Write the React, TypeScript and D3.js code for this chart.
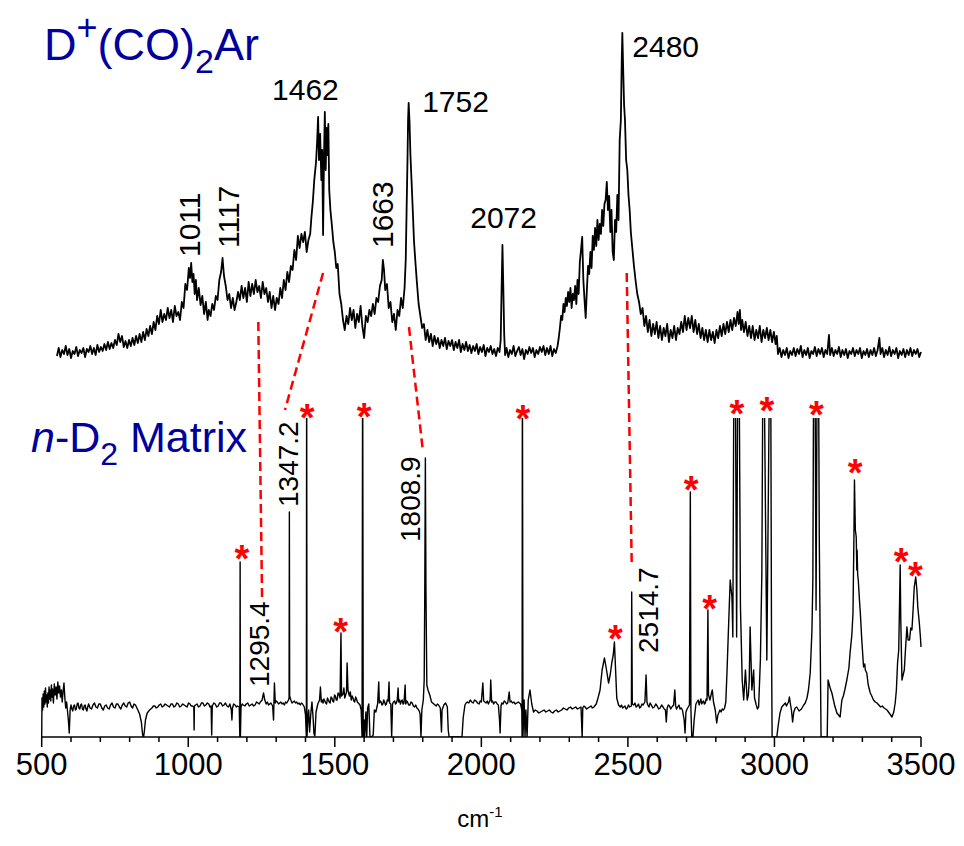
import React from 'react';
import * as d3 from 'd3';

const WIDTH = 964;
const HEIGHT = 846;

// D+(CO)2Ar spectrum: [wavenumber cm-1, intensity a.u.]
const TOP_SPECTRUM: [number, number][] = [
  [552,4],[558,12],[564,3],[570,10],[576,6],[582,14],[588,5],[594,11],[600,2],[606,9],[612,6],[618,13],[624,4],[630,10],[636,7],[642,12],[648,3],[654,11],[660,8],[666,14],[672,6],[678,12],[684,5],[690,15],[696,8],[702,13],
  [708,9],[714,16],[720,10],[726,18],[732,11],[738,17],[744,12],[750,20],[756,15],[762,26],[768,18],[774,24],[780,13],[786,19],[792,12],[798,20],[804,14],
  [810,22],[816,15],[822,24],[828,17],[834,26],[840,18],[846,28],[852,20],[858,31],[864,24],[870,34],[876,26],[882,38],[888,30],[894,44],[900,36],[906,50],[912,38],[918,46],[924,40],[930,52],[936,42],[942,50],[948,38],[954,54],[960,44],[966,48],[972,40],[978,58],[984,52],[990,76],[996,70],[1002,92],[1006,82],[1010,97],[1014,78],[1018,86],[1022,66],[1026,80],[1030,60],[1036,72],[1042,55],[1048,64],[1054,46],[1060,58],[1066,40],[1070,50],[1076,44],[1082,56],[1088,50],[1094,64],[1100,60],[1106,80],[1112,88],[1117,102],[1122,84],[1128,74],[1134,60],[1140,66],[1146,52],[1152,62],[1158,50],[1164,58],[1170,68],[1176,60],[1182,74],[1188,62],[1194,72],[1200,58],[1206,78],[1212,64],[1218,76],[1224,66],[1230,80],[1236,68],[1242,74],[1248,62],[1254,78],[1260,66],[1266,72],[1272,58],[1278,68],[1284,52],[1290,64],[1296,50],[1302,62],[1308,56],[1314,72],[1320,62],[1326,80],[1332,70],[1338,88],[1344,78],[1350,94],[1356,90],[1362,110],[1368,100],[1374,124],[1380,112],[1386,126],[1392,118],[1398,128],[1404,108],[1410,120],[1416,126],[1420,142],[1425,158],[1430,180],[1436,198],[1440,220],[1443,243],[1446,200],[1450,226],[1454,180],[1457,210],[1460,125],[1463,200],[1466,248],[1469,190],[1472,232],[1475,205],[1478,236],[1481,170],[1485,150],[1490,135],[1495,118],[1500,108],[1505,92],[1510,96],[1516,66],[1522,56],[1528,40],[1534,30],[1540,44],[1546,36],[1552,52],[1558,40],[1564,50],[1570,32],[1576,46],[1582,38],[1588,54],[1594,34],[1600,22],[1606,44],[1612,38],[1618,50],[1624,44],[1630,56],[1636,46],[1642,62],[1648,58],[1654,74],[1660,80],[1664,100],[1668,90],[1672,70],[1678,76],[1684,52],[1690,58],[1696,38],[1702,46],[1708,30],[1714,50],[1720,44],[1726,62],[1732,52],[1738,72],[1742,100],[1745,150],[1748,200],[1750,240],[1752,257],[1755,238],[1758,205],[1762,178],[1766,150],[1770,120],[1775,98],[1780,78],[1786,56],[1792,44],[1798,32],[1804,36],[1810,20],[1816,30],[1822,18],[1828,26],[1834,14],[1840,24],[1846,16],[1852,22],[1858,12],[1864,20],[1870,14],[1876,22],[1882,11],[1888,19],[1894,14],[1900,20],[1906,10],[1912,18],[1918,12],[1924,20],[1930,8],[1936,16],[1942,10],[1948,18],[1954,9],[1960,15],[1966,7],[1972,14],[1978,9],[1984,16],[1990,6],[1996,13],[2002,8],[2008,15],[2014,4],[2020,12],[2026,8],[2032,14],[2038,6],[2044,11],[2050,4],[2056,12],[2062,8],[2066,20],[2069,70],[2072,115],[2075,72],[2078,25],[2081,5],[2086,12],[2092,3],[2098,10],[2104,6],[2110,14],[2116,4],[2122,9],[2128,13],[2134,5],[2140,11],[2146,1],[2152,10],[2158,6],[2164,13],[2170,7],[2176,12],[2182,3],[2188,10],[2194,6],[2200,13],[2206,8],[2212,14],[2218,5],[2224,12],[2230,6],[2236,14],[2242,4],[2248,11],[2254,7],[2260,14],[2264,22],[2268,32],[2272,44],[2276,40],[2280,56],[2284,48],[2288,62],[2292,54],[2296,68],[2300,58],[2304,72],[2308,52],[2312,66],[2316,60],[2320,74],[2324,56],[2328,80],[2332,66],[2336,98],[2340,110],[2344,123],[2348,80],[2352,60],[2356,42],[2360,70],[2364,94],[2368,86],[2372,108],[2376,92],[2380,124],[2384,110],[2388,132],[2392,114],[2396,140],[2400,120],[2404,136],[2408,126],[2412,150],[2416,134],[2420,156],[2424,160],[2428,178],[2432,150],[2436,164],[2440,128],[2444,150],[2448,108],[2452,100],[2456,140],[2460,128],[2464,165],[2468,140],[2472,220],[2476,240],[2479,300],[2481,327],[2484,290],[2487,255],[2490,240],[2494,200],[2498,190],[2502,165],[2506,150],[2510,128],[2515,112],[2520,96],[2526,80],[2532,66],[2538,58],[2544,46],[2550,52],[2556,34],[2562,44],[2568,28],[2574,40],[2580,24],[2586,36],[2592,26],[2598,38],[2604,22],[2610,34],[2616,20],[2622,32],[2628,24],[2634,36],[2640,18],[2646,30],[2652,22],[2658,34],[2664,20],[2670,32],[2676,26],[2682,38],[2688,28],[2694,44],[2700,30],[2706,42],[2712,32],[2718,44],[2724,28],[2730,40],[2736,26],[2742,36],[2748,22],[2754,32],[2760,20],[2766,30],[2772,18],[2778,30],[2784,20],[2790,28],[2796,17],[2802,30],[2808,22],[2814,34],[2820,24],[2826,36],[2832,26],[2838,38],[2844,28],[2850,40],[2856,30],[2862,42],[2868,34],[2874,48],[2878,36],[2882,50],[2886,30],[2890,40],[2896,28],[2902,38],[2908,24],[2914,34],[2920,22],[2926,34],[2932,20],[2938,30],[2944,22],[2950,34],[2956,18],[2962,30],[2968,22],[2974,32],[2980,20],[2986,30],[2992,18],[2998,28],[3004,16],[3008,24],[3012,6],[3018,12],[3024,3],[3030,10],[3036,5],[3042,12],[3048,2],[3054,9],[3060,5],[3066,12],[3072,4],[3078,11],[3084,6],[3090,14],[3096,3],[3102,10],[3108,5],[3114,12],[3120,2],[3126,9],[3132,6],[3138,13],[3144,4],[3150,11],[3156,6],[3162,12],[3168,3],[3174,10],[3180,6],[3186,25],[3190,5],[3196,12],[3202,4],[3208,10],[3214,6],[3220,13],[3226,3],[3232,10],[3238,5],[3244,11],[3250,2],[3256,9],[3262,6],[3268,12],[3274,4],[3280,10],[3286,6],[3292,12],[3298,2],[3304,9],[3310,5],[3316,11],[3322,3],[3328,10],[3334,5],[3340,12],[3346,4],[3352,10],[3358,22],[3362,6],[3368,12],[3374,3],[3380,10],[3386,5],[3392,13],[3398,4],[3404,10],[3410,6],[3416,12],[3422,2],[3428,9],[3434,5],[3440,11],[3446,3],[3452,10],[3458,5],[3464,12],[3470,4],[3476,10],[3482,6],[3488,11],[3494,3],[3500,8],
];

// n-D2 matrix spectrum: [wavenumber cm-1, intensity a.u.]
const BOTTOM_SPECTRUM: [number, number][] = [
  [500,3],[501,42],[503,30],[505,46],[507,33],[509,49],[511,36],[513,52],[515,38],[517,45],[519,33],[521,47],[523,37],[525,53],[527,41],[529,50],[531,39],[533,55],[535,43],[537,51],[540,37],[543,56],[546,45],[549,53],[552,41],[555,58],[558,47],[561,54],[564,43],[567,50],[570,38],[573,49],[576,57],[579,42],[582,32],[585,38],[588,29],[591,20],[594,7],[597,30],[600,35],[603,31],[606,29],[609,34],[612,35],[615,30],[618,31],[621,36],[624,37],[627,32],[630,31],[633,35],[636,36],[639,31],[642,30],[645,34],[648,35],[651,31],[654,29],[657,33],[660,36],[665,32],[670,31],[675,35],[680,37],[685,33],[690,32],[695,36],[700,36],[705,32],[710,30],[715,34],[720,35],[725,32],[730,31],[735,35],[740,37],[745,33],[750,32],[755,36],[760,36],[765,33],[770,31],[775,35],[780,37],[785,34],[790,33],[795,37],[800,38],[805,34],[810,32],[815,36],[820,35],[828,30],[834,26],[840,18],[844,6],[847,2],[850,8],[854,20],[860,27],[868,30],[876,32],[881,34],[886,34],[891,32],[896,33],[901,35],[906,36],[911,33],[916,34],[921,36],[926,35],[931,34],[936,33],[941,36],[946,36],[951,33],[956,34],[961,37],[966,36],[971,33],[976,34],[981,36],[986,35],[991,34],[996,33],[1001,37],[1006,36],[1010,34],[1014,34],[1019,33],[1020,10],[1021,34],[1025,35],[1030,36],[1035,33],[1040,34],[1045,37],[1050,37],[1055,34],[1060,35],[1065,37],[1070,36],[1074,33],[1078,34],[1080,5],[1082,34],[1087,37],[1092,36],[1097,33],[1102,34],[1107,37],[1112,37],[1117,34],[1122,35],[1127,37],[1132,34],[1137,33],[1142,36],[1147,30],[1149,20],[1151,32],[1155,36],[1160,35],[1164,33],[1168,34],[1174,33],[1176,3],[1177,178],[1178,3],[1180,33],[1184,36],[1188,35],[1193,34],[1198,36],[1203,37],[1208,34],[1213,35],[1218,36],[1223,34],[1228,35],[1233,38],[1238,37],[1242,36],[1246,38],[1252,40],[1257,47],[1261,40],[1266,36],[1270,38],[1274,35],[1278,36],[1282,37],[1288,34],[1291,20],[1294,57],[1297,37],[1300,39],[1304,38],[1308,36],[1312,37],[1316,38],[1320,36],[1324,37],[1328,35],[1332,38],[1336,37],[1342,40],[1344,42],[1345,228],[1346,44],[1350,40],[1354,37],[1358,38],[1362,39],[1366,37],[1370,38],[1374,36],[1378,37],[1382,35],[1386,37],[1390,36],[1396,33],[1400,25],[1402,10],[1403,3],[1404,400],[1405,3],[1408,20],[1411,30],[1414,8],[1418,26],[1422,38],[1426,22],[1429,6],[1432,4],[1436,28],[1442,36],[1448,40],[1451,53],[1454,38],[1457,40],[1460,37],[1463,41],[1466,39],[1469,37],[1472,36],[1475,42],[1478,40],[1481,38],[1484,37],[1487,43],[1490,42],[1493,39],[1496,38],[1499,45],[1502,44],[1505,40],[1508,40],[1511,47],[1514,46],[1518,42],[1521,107],[1523,44],[1528,46],[1531,52],[1534,42],[1537,45],[1540,48],[1542,77],[1545,50],[1548,46],[1550,44],[1553,48],[1556,40],[1559,44],[1562,42],[1565,39],[1568,38],[1571,43],[1574,41],[1577,38],[1580,37],[1586,35],[1590,30],[1593,3],[1595,400],[1597,3],[1600,20],[1602,3],[1606,28],[1609,3],[1612,32],[1616,36],[1620,3],[1626,3],[1631,5],[1635,30],[1640,28],[1646,36],[1650,58],[1652,37],[1655,39],[1658,38],[1661,35],[1664,36],[1667,40],[1670,38],[1673,35],[1676,36],[1679,40],[1682,39],[1685,58],[1687,37],[1691,36],[1694,3],[1697,36],[1700,38],[1704,39],[1707,36],[1710,37],[1713,40],[1716,52],[1718,38],[1721,40],[1724,36],[1727,39],[1730,40],[1733,36],[1736,37],[1740,55],[1742,36],[1745,39],[1748,38],[1752,35],[1756,35],[1760,38],[1764,37],[1768,34],[1772,33],[1776,35],[1780,32],[1784,31],[1788,29],[1791,26],[1794,3],[1797,30],[1802,40],[1805,60],[1807,150],[1809,282],[1811,150],[1814,55],[1818,50],[1824,45],[1830,38],[1834,37],[1838,36],[1842,35],[1846,34],[1850,36],[1854,35],[1860,32],[1864,8],[1866,30],[1872,35],[1878,37],[1884,33],[1887,10],[1890,3],[1934,3],[1938,22],[1944,35],[1948,37],[1952,38],[1957,37],[1962,40],[1967,38],[1972,37],[1977,40],[1982,39],[1987,37],[1992,36],[1996,39],[2000,38],[2005,57],[2008,39],[2012,38],[2016,37],[2020,39],[2024,36],[2030,40],[2032,60],[2035,38],[2038,39],[2042,36],[2046,38],[2050,38],[2054,36],[2058,35],[2062,20],[2064,7],[2067,34],[2070,37],[2074,36],[2078,39],[2082,38],[2086,36],[2090,37],[2095,48],[2098,38],[2102,39],[2106,37],[2111,38],[2116,36],[2121,37],[2126,38],[2130,37],[2134,36],[2138,30],[2139,3],[2140,400],[2142,3],[2146,40],[2149,3],[2152,30],[2156,3],[2160,40],[2166,50],[2172,36],[2178,28],[2184,30],[2190,29],[2196,27],[2202,28],[2208,29],[2214,30],[2220,28],[2226,29],[2232,30],[2238,28],[2244,27],[2250,29],[2256,30],[2262,28],[2268,29],[2274,30],[2280,32],[2286,31],[2292,30],[2298,32],[2304,33],[2310,31],[2316,32],[2322,33],[2328,31],[2334,32],[2340,33],[2343,10],[2344,3],[2346,32],[2350,34],[2354,33],[2359,31],[2364,32],[2369,33],[2374,34],[2379,32],[2384,33],[2392,36],[2398,42],[2405,50],[2412,70],[2420,82],[2426,72],[2434,57],[2440,66],[2445,77],[2450,85],[2454,98],[2458,70],[2462,42],[2468,35],[2474,33],[2478,35],[2482,32],[2486,33],[2490,34],[2494,31],[2498,32],[2502,35],[2506,33],[2512,34],[2513,148],[2515,36],[2520,35],[2524,37],[2528,33],[2532,34],[2536,36],[2540,32],[2544,33],[2548,36],[2552,35],[2558,38],[2562,65],[2565,38],[2568,35],[2572,33],[2576,37],[2580,35],[2585,32],[2590,33],[2595,36],[2600,34],[2605,31],[2610,32],[2615,35],[2620,33],[2624,31],[2628,30],[2631,18],[2634,32],[2638,35],[2642,34],[2646,31],[2650,33],[2656,35],[2660,50],[2663,34],[2666,31],[2670,33],[2674,35],[2678,31],[2682,32],[2686,30],[2692,20],[2695,7],[2698,28],[2702,31],[2706,33],[2710,35],[2713,248],[2715,30],[2718,3],[2722,3],[2726,20],[2732,36],[2736,38],[2740,40],[2743,35],[2746,38],[2749,41],[2752,36],[2755,38],[2758,39],[2761,36],[2764,37],[2767,41],[2770,40],[2773,130],[2775,45],[2780,40],[2786,48],[2788,50],[2792,38],[2798,30],[2803,17],[2807,25],[2814,30],[2818,28],[2822,31],[2826,30],[2830,32],[2834,38],[2838,67],[2843,110],[2849,160],[2855,143],[2858,103],[2862,400],[2866,400],[2871,103],[2875,400],[2879,400],[2884,133],[2890,60],[2895,40],[2901,70],[2907,40],[2911,45],[2914,60],[2917,113],[2920,80],[2923,50],[2929,70],[2932,42],[2938,35],[2942,31],[2946,33],[2952,80],[2957,167],[2961,400],[2964,400],[2974,80],[2984,400],[2987,400],[2990,100],[2992,3],[3008,3],[3013,15],[3019,27],[3025,33],[3031,35],[3037,37],[3041,34],[3044,36],[3048,38],[3051,43],[3055,35],[3058,30],[3062,18],[3066,28],[3071,32],[3076,33],[3080,31],[3084,29],[3088,30],[3092,31],[3096,33],[3100,35],[3105,37],[3111,42],[3116,50],[3122,67],[3128,110],[3131,160],[3134,400],[3138,400],[3142,130],[3146,400],[3150,400],[3153,200],[3156,100],[3159,3],[3180,3],[3183,60],[3190,52],[3196,47],[3205,35],[3213,27],[3224,23],[3230,40],[3235,44],[3240,50],[3247,60],[3254,72],[3258,87],[3264,105],[3268,127],[3271,200],[3273,260],[3276,210],[3279,203],[3281,170],[3282,190],[3284,165],[3286,160],[3290,140],[3293,127],[3298,100],[3304,73],[3308,76],[3310,70],[3315,67],[3320,55],[3327,47],[3332,44],[3338,40],[3344,38],[3350,37],[3356,35],[3362,33],[3368,34],[3374,32],[3379,31],[3384,30],[3389,28],[3394,26],[3401,23],[3407,28],[3412,37],[3416,50],[3420,77],[3424,90],[3427,140],[3429,175],[3431,120],[3435,60],[3439,65],[3443,70],[3448,95],[3452,113],[3456,100],[3461,100],[3465,112],[3469,110],[3473,130],[3477,153],[3482,163],[3486,150],[3489,133],[3494,118],[3498,103],[3500,93],
];

const TICK_VALUES = [500, 1000, 1500, 2000, 2500, 3000, 3500];

// peak labels of the upper trace (anchor wn, anchor intensity)
const TOP_LABELS = [
  { text: '1462', wn: 1286, val: 260, vertical: false },
  { text: '1752', wn: 1798, val: 248, vertical: false },
  { text: '2072', wn: 1962, val: 132, vertical: false },
  { text: '2480', wn: 2515, val: 303, vertical: false },
  { text: '1011', wn: 1040, val: 103, vertical: true },
  { text: '1117', wn: 1173, val: 112, vertical: true },
  { text: '1663', wn: 1699, val: 112, vertical: true },
];

// peak labels of the lower trace
const BOTTOM_LABELS = [
  { text: '1295.4', wn: 1276, val: 53 },
  { text: '1347.2', wn: 1375, val: 233 },
  { text: '1808.9', wn: 1791, val: 198 },
  { text: '2514.7', wn: 2603, val: 87 },
];

// asterisks marking matrix/precursor bands: [wn, intensity]
const STAR_MARKS: [number, number][] = [
  [1183, 190], [1406, 331], [1520, 117], [1600, 332], [2142, 330], [2457, 110],
  [2716, 259], [2779, 140], [2872, 335], [2974, 338], [3143, 334], [3275, 276],
  [3432, 187], [3481, 173],
];

// dashed correlation links: top (wn, val) -> bottom (wn, val)
const LINKS = [
  { topWn: 1239, topVal: 38, botWn: 1252, botVal: 140 },
  { topWn: 1460, topVal: 87, botWn: 1330, botVal: 330 },
  { topWn: 1753, topVal: 33, botWn: 1801, botVal: 288 },
  { topWn: 2496, topVal: 87, botWn: 2513, botVal: 177 },
];

const FONT = '"Liberation Sans", Arial, Helvetica, sans-serif';
const TITLE_COLOR = '#00009c';

export default function App() {
  const x = d3.scaleLinear().domain([500, 3500]).range([41.7, 921]);
  const yTop = d3.scaleLinear().domain([0, 330]).range([360, 30]);
  const yBot = d3.scaleLinear().domain([0, 340]).range([740, 400]);
  const axisY = 737;

  const lineTop = d3.line<[number, number]>().x(d => x(d[0])).y(d => yTop(d[1]));
  const lineBot = d3.line<[number, number]>().x(d => x(d[0])).y(d => yBot(d[1]));

  const minorTicks = d3.range(500, 3501, 100);
  const starSize = 38;

  return (
    <svg width={WIDTH} height={HEIGHT} style={{ position: 'absolute', left: 0, top: 0, background: '#fff' }}
      fontFamily={FONT}>
      <defs>
        <clipPath id="botClip">
          <rect x={0} y={yBot(322)} width={WIDTH} height={axisY - yBot(322)} />
        </clipPath>
      </defs>
      <rect x={0} y={0} width={WIDTH} height={HEIGHT} fill="#fff" />

      {/* dashed links */}
      {LINKS.map((l, i) => (
        <line key={'l' + i} x1={x(l.topWn)} y1={yTop(l.topVal)} x2={x(l.botWn)} y2={yBot(l.botVal)}
          stroke="#ff0000" strokeWidth={2.5} strokeDasharray="9,5" />
      ))}

      {/* spectra */}
      <path d={lineTop(TOP_SPECTRUM) || ''} fill="none" stroke="#000" strokeWidth={1.8} strokeLinejoin="round" />
      <g clipPath="url(#botClip)">
        <path d={lineBot(BOTTOM_SPECTRUM) || ''} fill="none" stroke="#000" strokeWidth={1.4} strokeLinejoin="round" />
      </g>

      {/* axis */}
      <line x1={x(500)} x2={x(3500)} y1={axisY} y2={axisY} stroke="#000" strokeWidth={1.5} />
      {minorTicks.map(t => (
        <line key={'m' + t} x1={x(t)} x2={x(t)} y1={axisY} y2={axisY + (TICK_VALUES.includes(t) ? 10 : 5)}
          stroke="#000" strokeWidth={1.5} />
      ))}
      {TICK_VALUES.map(t => (
        <text key={'t' + t} x={x(t)} y={775} textAnchor="middle" fontSize={31} fill="#000">{t}</text>
      ))}
      <text x={480} y={827} textAnchor="middle" fontSize={24} fill="#000">cm<tspan fontSize={15} dy={-10}>-1</tspan></text>

      {/* titles */}
      <text x={44} y={60} fontSize={45} fill={TITLE_COLOR}>
        D<tspan fontSize={36} dy={-20}>+</tspan><tspan dy={20}>(CO)</tspan><tspan fontSize={34} dy={13}>2</tspan><tspan dy={-13}>Ar</tspan>
      </text>
      <text x={31} y={452} fontSize={43} fill={TITLE_COLOR}>
        <tspan fontStyle="italic">n</tspan>-D<tspan fontSize={32} dy={13}>2</tspan><tspan dy={-13}>{' Matrix'}</tspan>
      </text>

      {/* top labels */}
      {TOP_LABELS.map(l => l.vertical ? (
        <text key={l.text} transform={`translate(${x(l.wn)},${yTop(l.val)}) rotate(-90)`} fontSize={30} fill="#000">{l.text}</text>
      ) : (
        <text key={l.text} x={x(l.wn)} y={yTop(l.val)} fontSize={30} fill="#000">{l.text}</text>
      ))}

      {/* bottom labels */}
      {BOTTOM_LABELS.map(l => (
        <text key={l.text} transform={`translate(${x(l.wn)},${yBot(l.val)}) rotate(-90)`} fontSize={28} fill="#000">{l.text}</text>
      ))}

      {/* stars */}
      {STAR_MARKS.map((s, i) => (
        <text key={'s' + i} x={x(s[0])} y={yBot(s[1]) + 0.58 * starSize} textAnchor="middle" fontSize={starSize}
          fontWeight="bold" fill="#ff0000">*</text>
      ))}
    </svg>
  );
}
